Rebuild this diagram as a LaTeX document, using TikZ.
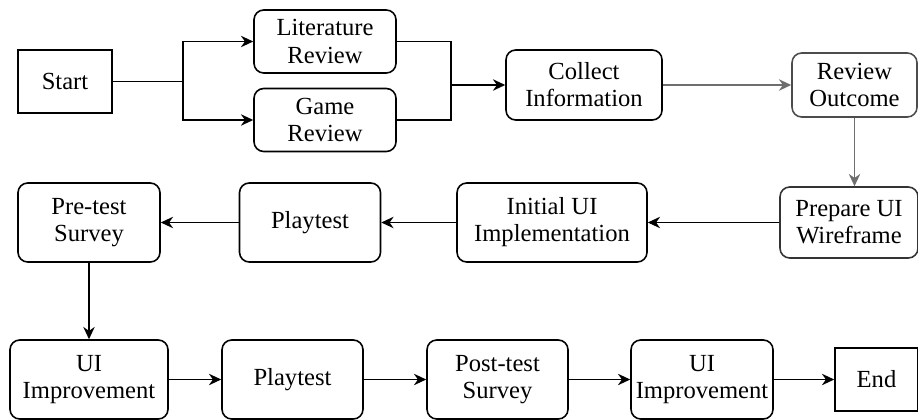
\documentclass[tikz,border=0pt]{standalone}
\usepackage{fontspec}
\setmainfont{Liberation Serif}
\newfontfamily\boxfont{Liberation Serif}
\usepackage{tikz}
\usetikzlibrary{positioning,arrows.meta}
\definecolor{flowgrey}{RGB}{110,110,110}
\tikzset{
  box/.style={draw,line width=0.9pt,align=center,inner sep=1pt,font=\boxfont\fontsize{14}{15.4}\selectfont},
  rbox/.style={box,rounded corners=5.5pt},
  conn/.style={line width=0.9pt},
  arr/.style={conn,-{Stealth[length=7pt,width=6.5pt]}},
  garr/.style={arr,draw=flowgrey}
}

\begin{document}
\begin{tikzpicture}[x=0.02cm,y=-0.02cm]
      \useasboundingbox (0,0) rectangle (918,419);
      \node[box,minimum width=1.88cm,minimum height=1.26cm] (start) at (65,81.5) {Start};
      \node[rbox,minimum width=2.84cm,minimum height=1.26cm] (litrev) at (325,41.5) {Literature\\Review};
      \node[rbox,minimum width=2.84cm,minimum height=1.26cm] (gamerev) at (325,120) {Game\\Review};
      \node[rbox,minimum width=3.12cm,minimum height=1.4cm] (collect) at (584,85) {Collect\\Information};
      \node[rbox,draw=black!70,minimum width=2.5cm,minimum height=1.28cm] (outcome) at (854.5,85) {Review\\Outcome};
      \node[rbox,draw=black!80,minimum width=2.76cm,minimum height=1.42cm] (wireframe) at (849,222.5) {Prepare UI\\Wireframe};
      \node[rbox,minimum width=3.8cm,minimum height=1.58cm] (initui) at (552,222.5) {Initial UI\\Implementation};
      \node[rbox,minimum width=2.82cm,minimum height=1.58cm] (play1) at (310,222.5) {Playtest};
      \node[rbox,minimum width=2.84cm,minimum height=1.58cm] (pretest) at (89,222.5) {Pre-test\\Survey};
      \node[rbox,minimum width=3.16cm,minimum height=1.58cm] (improve1) at (89,379.5) {UI\\Improvement};
      \node[rbox,minimum width=2.82cm,minimum height=1.58cm] (play2) at (292.5,379.5) {Playtest};
      \node[rbox,minimum width=2.82cm,minimum height=1.58cm] (posttest) at (497.5,379.5) {Post-test\\Survey};
      \node[rbox,minimum width=2.84cm,minimum height=1.58cm] (improve2) at (702,379.5) {UI\\Improvement};
      \node[box,minimum width=1.66cm,minimum height=1.26cm] (finish) at (876.5,379.5) {End};
      % fork after start, merge before collecting
      \coordinate (split) at (183,81.5);
      \coordinate (join) at (451,85);
      \draw[conn] (start) -- (split);
      \draw[arr] (split) |- (litrev); \draw[arr] (split) |- (gamerev);
      \draw[conn] (litrev) -| (join); \draw[conn] (gamerev) -| (join);
      \draw[arr] (join) -- (collect);
      \draw[garr] (collect) -- (outcome);
      \draw[garr] (outcome.south) -- (outcome.south |- wireframe.north);
      \draw[arr] (wireframe) -- (initui); \draw[arr] (initui) -- (play1);
      \draw[arr] (play1) -- (pretest); \draw[arr] (pretest) -- (improve1);
      \draw[arr] (improve1) -- (play2); \draw[arr] (play2) -- (posttest);
      \draw[arr] (posttest) -- (improve2); \draw[arr] (improve2) -- (finish);
    \end{tikzpicture}
\end{document}
